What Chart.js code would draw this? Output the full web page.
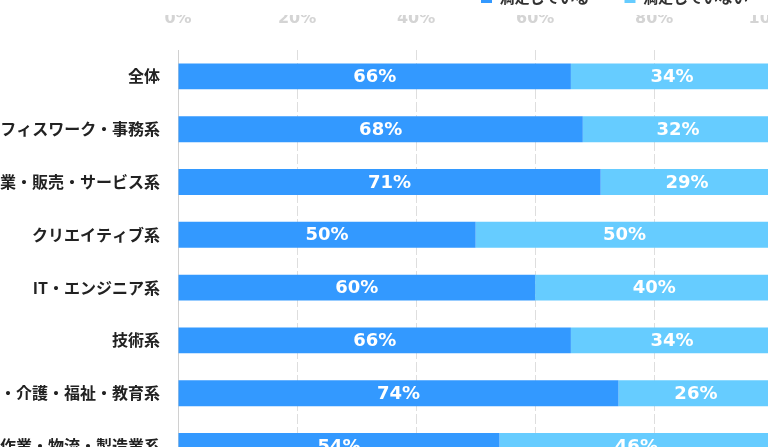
<!DOCTYPE html>
<html lang="ja">
<head>
<meta charset="utf-8">
<title>満足度</title>
<script src="https://cdn.jsdelivr.net/npm/chart.js@4"></script>
<style>
    html, body { margin: 0; padding: 0; overflow: hidden; background: #fff; }
    body { width: 768px; height: 447px; position: relative; }
    #wrap { position: absolute; left: -120px; top: -46px; }
</style>
</head>
<body>
<div id="wrap"><canvas id="satChart" width="940" height="546"></canvas></div>
<script>
// categories (rows, top to bottom)
const categories = [
    '全体',
    'オフィスワーク・事務系',
    '営業・販売・サービス系',
    'クリエイティブ系',
    'IT・エンジニア系',
    '技術系',
    '医療・介護・福祉・教育系',
    '軽作業・物流・製造業系'
];

// series values (%)
const satisfied = [66, 68, 71, 50, 60, 66, 74, 54];
const notSatisfied = [34, 32, 29, 50, 40, 34, 26, 46];

// x axis ticks
const tickValues = [0, 20, 40, 60, 80, 100];

const seriesNames = ['満足している', '満足していない'];

// draws the white % labels in the middle of each bar segment
const barLabels = {
    id: 'barLabels',
    afterDatasetsDraw(chart) {
        const ctx = chart.ctx;
        ctx.save();
        ctx.fillStyle = '#ffffff';
        ctx.font = 'bold 18px "DejaVu Sans", sans-serif';
        ctx.textAlign = 'center';
        ctx.textBaseline = 'middle';
        chart.data.datasets.forEach((ds, i) => {
            const meta = chart.getDatasetMeta(i);
            meta.data.forEach((bar, j) => {
                const p = bar.getProps(['x', 'y', 'base'], true);
                ctx.fillText(ds.data[j] + '%', (p.x + p.base) / 2, p.y + 1);
            });
        });
        ctx.restore();
    }
};

const ctx = document.getElementById('satChart').getContext('2d');

new Chart(ctx, {
    type: 'bar',
    data: {
        labels: categories,
        datasets: [{
            label: seriesNames[0],
            data: satisfied,
            backgroundColor: '#3399ff',
            borderWidth: 0
        }, {
            label: seriesNames[1],
            data: notSatisfied,
            backgroundColor: '#66ccff',
            borderWidth: 0
        }]
    },
    options: {
        indexAxis: 'y',
        responsive: false,
        animation: false,
        layout: {
            padding: { top: 1, right: 37, bottom: 13, left: 0 }
        },
        datasets: {
            bar: {
                categoryPercentage: 1,
                barPercentage: 0.49
            }
        },
        scales: {
            x: {
                position: 'top',
                stacked: true,
                min: 0,
                max: 100,
                afterBuildTicks: axis => {
                    axis.ticks = tickValues.map(v => ({ value: v }));
                },
                afterFit: axis => {
                    // keep the plot top at a fixed place under the legend
                    const lh = axis.chart.legend ? axis.chart.legend.height : 0;
                    axis.height = 95 - lh;
                },
                ticks: {
                    color: '#d4d4d4',
                    padding: 22,
                    callback: v => v + '%',
                    font: { family: '"DejaVu Sans"', size: 16, weight: 'bold' }
                },
                grid: {
                    color: '#dedede',
                    drawTicks: false
                },
                border: {
                    display: false,
                    dash: [10, 3]
                }
            },
            y: {
                stacked: true,
                afterFit: axis => { axis.width = 298; },
                ticks: {
                    color: '#222222',
                    padding: 18,
                    font: { family: '"Noto Sans CJK JP"', size: 16, weight: 'bold' }
                },
                grid: {
                    display: false,
                    drawTicks: false
                },
                border: {
                    display: true,
                    color: '#d0d0d0',
                    width: 1
                }
            }
        },
        plugins: {
            legend: {
                position: 'top',
                align: 'end',
                labels: {
                    boxWidth: 11,
                    boxHeight: 11,
                    padding: 35,
                    color: '#333333',
                    font: { family: '"Noto Sans CJK JP"', size: 15, weight: 'bold' }
                }
            },
            tooltip: { enabled: false }
        }
    },
    plugins: [barLabels]
});
</script>
</body>
</html>
